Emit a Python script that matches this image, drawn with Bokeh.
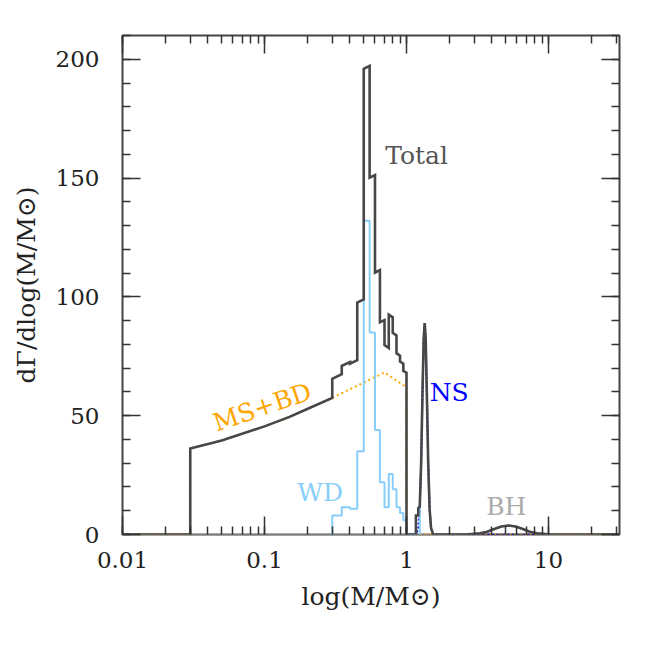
from bokeh.plotting import figure
from bokeh.models import Range1d, FixedTicker, LinearAxis, LogAxis, Label
from bokeh.embed import file_html
from bokeh.resources import INLINE

# ---------------- data ----------------
# main sequence + brown dwarfs (orange dotted)
ms_mass = [0.01, 0.03, 0.03, 0.05, 0.1, 0.15, 0.2, 0.3, 0.7, 0.98, 1.0, 1.0, 31.62]
ms_val = [0.0, 0.0, 36.2, 39.6, 45.5, 49.5, 52.8, 57.5, 68.2, 62.3, 62.1, 0.0, 0.0]

# white dwarfs histogram (light blue)
wd_edges = [0.30, 0.35, 0.40, 0.45, 0.50, 0.55, 0.60, 0.65, 0.70, 0.75, 0.80,
            0.85, 0.90, 0.95, 1.00, 1.165, 1.21, 1.24]
wd_vals = [8.0, 11.5, 10.8, 35.0, 132.0, 85.0, 44.0, 22.0, 11.5, 25.5, 19.0,
           11.5, 9.0, 6.0, 0.0, 8.0, 11.0]

# neutron stars (blue)
ns_mass = [1.0, 1.169, 1.211, 1.239, 1.268, 1.297, 1.321, 1.343, 1.365, 1.39,
           1.422, 1.455, 1.489, 1.542, 10.5]
ns_val = [0.0, 0.0, 2.7, 10.7, 30.0, 60.5, 82.0, 89.0, 82.0, 60.5,
          30.0, 10.7, 2.7, 0.0, 0.0]

# black holes (gray)
bh_mass = [0.01, 2.62, 3.30, 3.70, 4.15, 4.66, 5.23, 5.87, 6.59, 7.39, 8.29, 10.44, 31.62]
bh_val = [0.0, 0.0, 0.5, 1.2, 2.3, 3.35, 3.8, 3.35, 2.3, 1.2, 0.5, 0.0, 0.0]

# total (dark gray)
tot_mass = [0.01, 0.03, 0.03, 0.05, 0.1, 0.15, 0.2, 0.30, 0.30, 0.35, 0.35,
            0.40, 0.40, 0.45, 0.45, 0.50, 0.50, 0.55, 0.55, 0.60, 0.60,
            0.65, 0.65, 0.70, 0.70, 0.75, 0.75, 0.80, 0.80, 0.85, 0.85,
            0.90, 0.90, 0.95, 0.95, 1.00, 1.00, 1.165, 1.165, 1.21, 1.21,
            1.24, 1.268, 1.297, 1.321, 1.343, 1.365, 1.39, 1.422, 1.455,
            1.489, 1.542, 2.62, 3.30, 3.70, 4.15, 4.66, 5.23, 5.87, 6.59,
            7.39, 8.29, 10.44, 31.62]
tot_val = [0.0, 0.0, 36.2, 39.6, 45.5, 49.5, 52.8, 57.5, 65.5, 67.45, 70.95,
           72.6, 71.9, 73.4, 97.6, 98.95, 195.95, 197.2, 150.2, 151.25, 110.25,
           111.3, 89.3, 90.2, 79.7, 78.5, 92.5, 91.4, 84.9, 83.8, 76.3,
           75.3, 72.8, 71.85, 68.85, 68.1, 0.0, 0.0, 8.0, 8.0, 11.0,
           12.0, 30.0, 60.5, 82.0, 89.0, 82.0, 60.5, 30.0, 10.7,
           2.7, 0.0, 0.0, 0.5, 1.2, 2.3, 3.35, 3.8, 3.35, 2.3,
           1.2, 0.5, 0.0, 0.0]

x_major = [0.01, 0.1, 1, 10]
x_labels = ["0.01", "0.1", "1", "10"]
y_major = [0, 50, 100, 150, 200]

# ---------------- figure ----------------
FONT = "DejaVu Serif"
p = figure(width=646, height=646, x_axis_type="log",
           x_range=Range1d(0.01, 10 ** 1.5), y_range=Range1d(0, 210),
           output_backend="svg", toolbar_location=None,
           min_border_left=122, min_border_right=27,
           min_border_top=35, min_border_bottom=112)
p.grid.visible = False
p.background_fill_color = "white"
p.border_fill_color = "white"
p.outline_line_color = "#444444"
p.outline_line_width = 2

x_minor = [k * 10 ** d for d in range(-2, 2) for k in range(1, 10) if k * 10 ** d < 31.7]
xt = FixedTicker(ticks=x_major, minor_ticks=x_minor)
yt = FixedTicker(ticks=y_major, minor_ticks=list(range(0, 211, 10)))

def style_axis(ax):
    ax.axis_line_color = None
    ax.major_tick_in = 18
    ax.major_tick_out = 0
    ax.minor_tick_in = 8
    ax.minor_tick_out = 0
    ax.major_tick_line_color = "#333333"
    ax.minor_tick_line_color = "#333333"
    ax.major_tick_line_width = 1.5
    ax.minor_tick_line_width = 1.5
    ax.major_label_text_font = FONT
    ax.major_label_text_font_size = "23px"
    ax.major_label_text_color = "#222222"
    ax.axis_label_text_font = FONT
    ax.axis_label_text_font_size = "25px"
    ax.axis_label_text_font_style = "normal"
    ax.axis_label_text_color = "#222222"

xa = p.xaxis[0]
xa.ticker = xt
xa.major_label_overrides = {t: s for t, s in zip(x_major, x_labels)}
xa.axis_label = "log(M/M⊙)"
style_axis(xa)
xa.major_label_standoff = 17
xa.axis_label_standoff = 11

ya = p.yaxis[0]
ya.ticker = yt
ya.axis_label = "dΓ/dlog(M/M⊙)"
style_axis(ya)
ya.major_label_standoff = 23
ya.axis_label_standoff = 12

top = LogAxis(ticker=xt)
style_axis(top)
top.major_label_overrides = {t: "" for t in x_major}
top.major_label_standoff = 0
p.add_layout(top, "above")
right = LinearAxis(ticker=yt)
style_axis(right)
right.major_label_overrides = {t: "" for t in y_major}
right.major_label_standoff = 0
p.add_layout(right, "right")

# ---------------- curves ----------------
def steps(edges, vals):
    xs, ys = [edges[0]], [0.0]
    for i, v in enumerate(vals):
        xs += [edges[i], edges[i + 1]]
        ys += [v, v]
    xs.append(edges[-1])
    ys.append(0.0)
    return xs, ys

p.line(bh_mass, bh_val, line_color="#b4b4b4", line_width=2)
p.line(ns_mass, ns_val, line_color="#0000ff", line_width=2, line_dash="2 2")
p.line(ms_mass, ms_val, line_color="#ffa500", line_width=2, line_dash="2 3")
wx, wy = steps(wd_edges, wd_vals)
p.line(wx, wy, line_color="#87cefa", line_width=2)
p.line(tot_mass, tot_val, line_color="#474747", line_width=2.6, line_join="miter")

# ---------------- labels ----------------
def lab(x, y, t, c, angle=0.0, align="center"):
    p.add_layout(Label(x=x, y=y, text=t, text_color=c, text_font=FONT,
                       text_font_size="25px", text_align=align,
                       text_baseline="middle", angle=angle))

lab(0.708, 159.6, "Total", "#555555", align="left")
lab(0.0964, 53.6, "MS+BD", "#ffa500", angle=0.33)
lab(0.2467, 17.5, "WD", "#87cefa")
lab(2.0, 59.9, "NS", "#0000ff")
lab(5.04, 11.8, "BH", "#aaaaaa")

open("out.html", "w").write(file_html(p, INLINE))
